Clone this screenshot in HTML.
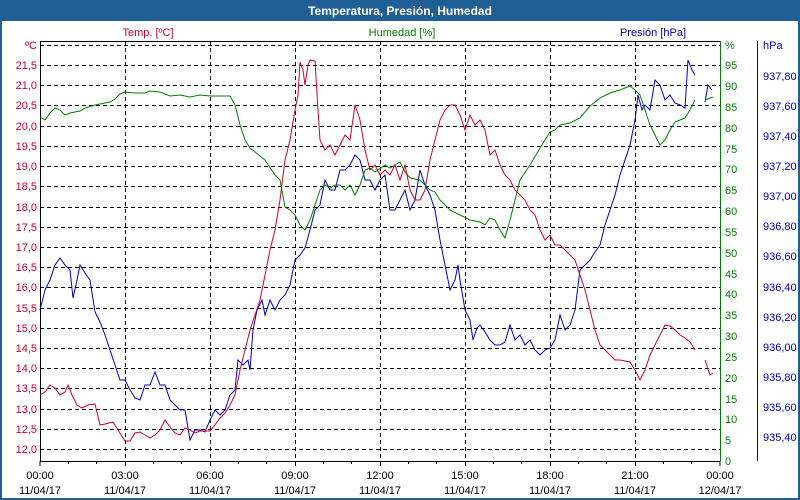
<!DOCTYPE html>
<html><head><meta charset="utf-8"><style>
html,body{margin:0;padding:0;background:#fff;}
svg{display:block;font-family:"Liberation Sans",sans-serif;}
</style></head><body>
<svg width="800" height="500" viewBox="0 0 800 500" xmlns="http://www.w3.org/2000/svg">
<rect x="0" y="0" width="800" height="500" fill="#fff"/>
<rect x="0" y="0" width="800" height="21" fill="#1f5f96"/>
<rect x="1" y="1" width="798" height="498" fill="none" stroke="#1f5f96" stroke-width="2"/>
<text x="400" y="15" fill="#fff" font-size="12" font-weight="bold" text-anchor="middle">Temperatura, Presión, Humedad</text>
<text x="148" y="36" fill="#d0002a" font-size="11" text-anchor="middle">Temp. [ºC]</text>
<text x="402" y="36" fill="#008000" font-size="11" text-anchor="middle">Humedad [%]</text>
<text x="653" y="36" fill="#0000c0" font-size="11" text-anchor="middle">Presión [hPa]</text>
<g stroke="#000" stroke-width="1" stroke-dasharray="4,3">
<line x1="40" y1="45.5" x2="720" y2="45.5"/><line x1="40" y1="65.5" x2="720" y2="65.5"/><line x1="40" y1="85.5" x2="720" y2="85.5"/><line x1="40" y1="105.5" x2="720" y2="105.5"/><line x1="40" y1="126.5" x2="720" y2="126.5"/><line x1="40" y1="146.5" x2="720" y2="146.5"/><line x1="40" y1="166.5" x2="720" y2="166.5"/><line x1="40" y1="186.5" x2="720" y2="186.5"/><line x1="40" y1="207.5" x2="720" y2="207.5"/><line x1="40" y1="227.5" x2="720" y2="227.5"/><line x1="40" y1="247.5" x2="720" y2="247.5"/><line x1="40" y1="267.5" x2="720" y2="267.5"/><line x1="40" y1="287.5" x2="720" y2="287.5"/><line x1="40" y1="308.5" x2="720" y2="308.5"/><line x1="40" y1="328.5" x2="720" y2="328.5"/><line x1="40" y1="348.5" x2="720" y2="348.5"/><line x1="40" y1="368.5" x2="720" y2="368.5"/><line x1="40" y1="388.5" x2="720" y2="388.5"/><line x1="40" y1="409.5" x2="720" y2="409.5"/><line x1="40" y1="429.5" x2="720" y2="429.5"/><line x1="40" y1="449.5" x2="720" y2="449.5"/>
<line x1="125.5" y1="41" x2="125.5" y2="461"/><line x1="210.5" y1="41" x2="210.5" y2="461"/><line x1="295.5" y1="41" x2="295.5" y2="461"/><line x1="380.5" y1="41" x2="380.5" y2="461"/><line x1="465.5" y1="41" x2="465.5" y2="461"/><line x1="550.5" y1="41" x2="550.5" y2="461"/><line x1="635.5" y1="41" x2="635.5" y2="461"/>
</g>
<line x1="40.5" y1="41" x2="40.5" y2="461" stroke="#000"/>
<line x1="40" y1="41.5" x2="720" y2="41.5" stroke="#000"/>
<line x1="40" y1="461.5" x2="720" y2="461.5" stroke="#000"/>
<line x1="720.5" y1="41" x2="720.5" y2="461" stroke="#008000"/>
<line x1="757.5" y1="41" x2="757.5" y2="461" stroke="#0000c0"/>
<g stroke="#000"><line x1="40" y1="461" x2="40" y2="466"/><line x1="68.5" y1="461" x2="68.5" y2="464"/><line x1="96.5" y1="461" x2="96.5" y2="464"/><line x1="125.5" y1="461" x2="125.5" y2="466"/><line x1="153.5" y1="461" x2="153.5" y2="464"/><line x1="181.5" y1="461" x2="181.5" y2="464"/><line x1="210.5" y1="461" x2="210.5" y2="466"/><line x1="238.5" y1="461" x2="238.5" y2="464"/><line x1="266.5" y1="461" x2="266.5" y2="464"/><line x1="295.5" y1="461" x2="295.5" y2="466"/><line x1="323.5" y1="461" x2="323.5" y2="464"/><line x1="351.5" y1="461" x2="351.5" y2="464"/><line x1="380.5" y1="461" x2="380.5" y2="466"/><line x1="408.5" y1="461" x2="408.5" y2="464"/><line x1="436.5" y1="461" x2="436.5" y2="464"/><line x1="465.5" y1="461" x2="465.5" y2="466"/><line x1="493.5" y1="461" x2="493.5" y2="464"/><line x1="521.5" y1="461" x2="521.5" y2="464"/><line x1="550.5" y1="461" x2="550.5" y2="466"/><line x1="578.5" y1="461" x2="578.5" y2="464"/><line x1="606.5" y1="461" x2="606.5" y2="464"/><line x1="635.5" y1="461" x2="635.5" y2="466"/><line x1="663.5" y1="461" x2="663.5" y2="464"/><line x1="691.5" y1="461" x2="691.5" y2="464"/><line x1="720" y1="461" x2="720" y2="466"/></g>
<g font-size="11" fill="#000" text-anchor="middle">
<text x="40" y="479">00:00</text><text x="40" y="494">11/04/17</text>
<text x="125" y="479">03:00</text><text x="125" y="494">11/04/17</text>
<text x="210" y="479">06:00</text><text x="210" y="494">11/04/17</text>
<text x="295" y="479">09:00</text><text x="295" y="494">11/04/17</text>
<text x="380" y="479">12:00</text><text x="380" y="494">11/04/17</text>
<text x="465" y="479">15:00</text><text x="465" y="494">11/04/17</text>
<text x="550" y="479">18:00</text><text x="550" y="494">11/04/17</text>
<text x="635" y="479">21:00</text><text x="635" y="494">11/04/17</text>
<text x="720" y="479">00:00</text><text x="720" y="494">12/04/17</text>
</g>
<g font-size="11" fill="#d0002a" text-anchor="end">
<text x="37" y="49">ºC</text><text x="37" y="69">21,5</text><text x="37" y="89">21,0</text><text x="37" y="109">20,5</text><text x="37" y="130">20,0</text><text x="37" y="150">19,5</text><text x="37" y="170">19,0</text><text x="37" y="190">18,5</text><text x="37" y="211">18,0</text><text x="37" y="231">17,5</text><text x="37" y="251">17,0</text><text x="37" y="271">16,5</text><text x="37" y="291">16,0</text><text x="37" y="312">15,5</text><text x="37" y="332">15,0</text><text x="37" y="352">14,5</text><text x="37" y="372">14,0</text><text x="37" y="392">13,5</text><text x="37" y="413">13,0</text><text x="37" y="433">12,5</text><text x="37" y="453">12,0</text>
</g>
<g font-size="11" fill="#008000">
<text x="725" y="49">%</text><text x="725" y="69">95</text><text x="725" y="90">90</text><text x="725" y="111">85</text><text x="725" y="132">80</text><text x="725" y="153">75</text><text x="725" y="173">70</text><text x="725" y="194">65</text><text x="725" y="215">60</text><text x="725" y="236">55</text><text x="725" y="257">50</text><text x="725" y="278">45</text><text x="725" y="298">40</text><text x="725" y="319">35</text><text x="725" y="340">30</text><text x="725" y="361">25</text><text x="725" y="382">20</text><text x="725" y="403">15</text><text x="725" y="423">10</text><text x="725" y="444">5</text><text x="725" y="465">0</text>
</g>
<g font-size="11" fill="#0000c0">
<text x="763" y="49">hPa</text><text x="763" y="80">937,80</text><text x="763" y="110">937,60</text><text x="763" y="140">937,40</text><text x="763" y="170">937,20</text><text x="763" y="200">937,00</text><text x="763" y="230">936,80</text><text x="763" y="260">936,60</text><text x="763" y="291">936,40</text><text x="763" y="321">936,20</text><text x="763" y="351">936,00</text><text x="763" y="381">935,80</text><text x="763" y="411">935,60</text><text x="763" y="441">935,40</text>
</g>
<g stroke="#0000c0" fill="none" stroke-width="1">
<polyline points="40,310 45,290 50,280 55,265 60,258 65,265 70,270 73,298 77,280 80,265 85,273 90,280 95,312 100,322 105,335 110,350 115,365 120,380 125,380 130,390 135,398 140,400 145,385 150,385 155,372 160,385 165,385 170,400 175,405 180,410 185,410 190,440 195,430 200,430 205,432 210,420 215,410 220,415 225,410 230,395 235,390 238,360 243,365 248,360 250,370 253,330 257,310 262,300 265,315 270,300 275,310 280,300 285,295 290,285 295,260 300,255 305,248 310,230 315,210 320,205 325,180 330,190 335,190 340,170 345,170 350,165 355,155 360,160 365,180 370,180 375,190 380,180 385,175 390,210 395,210 400,200 405,190 410,210 415,200 420,170 425,185 430,195 435,210 440,240 445,265 450,290 455,280 458,265 460,280 465,310 470,320 473,340 477,328 480,325 485,332 490,340 495,345 500,345 505,342 510,325 515,340 520,335 525,345 530,340 535,350 540,355 545,350 550,348 555,340 560,315 565,330 570,325 575,310 580,270 585,265 590,260 595,252 600,245 605,225 610,210 615,195 620,175 625,160 630,145 635,120 638,95 642,110 645,105 650,110 655,80 660,85 665,100 670,95 675,103 680,105 685,108 688,60 692,70 695,75"/>
<polyline points="705,102 708,85 712,90"/>
</g>
<g stroke="#008000" fill="none" stroke-width="1">
<polyline points="40,117 45,120 50,113 55,108 60,110 65,115 70,113 80,111 85,108 95,105 105,103 110,102 115,99 120,94 125,92 135,93 145,93 150,91 160,92 170,96 180,95 190,97 200,95 210,96 230,96 235,105 240,125 245,140 250,148 255,152 265,160 275,175 280,180 285,207 290,210 295,215 300,225 305,230 310,220 315,205 320,190 325,185 330,188 335,185 340,185 345,190 350,185 355,195 360,185 365,170 370,168 375,172 385,165 390,168 395,165 400,162 405,172 410,178 420,180 425,185 430,190 435,192 440,200 450,210 460,215 470,220 480,222 485,225 490,218 495,220 500,230 505,238 510,220 515,200 520,180 530,165 540,148 545,140 550,132 555,130 560,125 570,123 580,118 590,106 600,98 610,93 620,90 630,86 635,90 640,95 645,110 650,125 655,135 660,145 665,140 670,130 675,122 680,120 685,118 690,110 695,100"/>
<polyline points="705,100 710,98 713,97"/>
</g>
<g stroke="#d0002a" fill="none" stroke-width="1">
<polyline points="40,395 45,392 50,385 55,388 60,395 65,392 68,385 72,395 77,405 82,408 88,405 95,404 100,425 105,424 113,422 118,430 125,441 130,441 135,433 140,432 145,435 150,438 155,435 160,430 165,420 170,427 175,433 180,435 185,428 190,430 195,433 200,431 210,431 215,425 220,418 225,413 230,405 235,395 240,370 245,350 250,330 255,315 260,300 265,275 270,250 275,230 280,200 285,160 290,140 292,128 295,110 298,95 300,62 303,70 305,85 308,65 310,60 315,61 318,110 320,140 325,150 330,145 335,155 340,145 345,135 350,140 355,105 360,120 365,150 370,170 375,165 380,175 385,170 390,175 395,165 400,180 405,165 410,190 415,200 420,200 425,190 430,160 435,140 440,120 445,110 450,105 455,105 460,115 465,130 470,115 475,125 480,120 485,130 490,155 495,150 500,165 505,175 510,180 515,190 520,195 525,200 530,210 535,215 540,230 545,240 550,235 555,245 560,245 565,250 570,255 575,260 580,275 585,290 590,310 595,330 600,345 605,350 610,355 615,360 620,360 630,362 635,370 640,380 645,370 650,355 655,345 660,335 665,325 670,326 675,330 680,335 685,338 690,342 695,350"/>
<polyline points="705,360 710,375 713,373"/>
</g>
</svg>
</body></html>
